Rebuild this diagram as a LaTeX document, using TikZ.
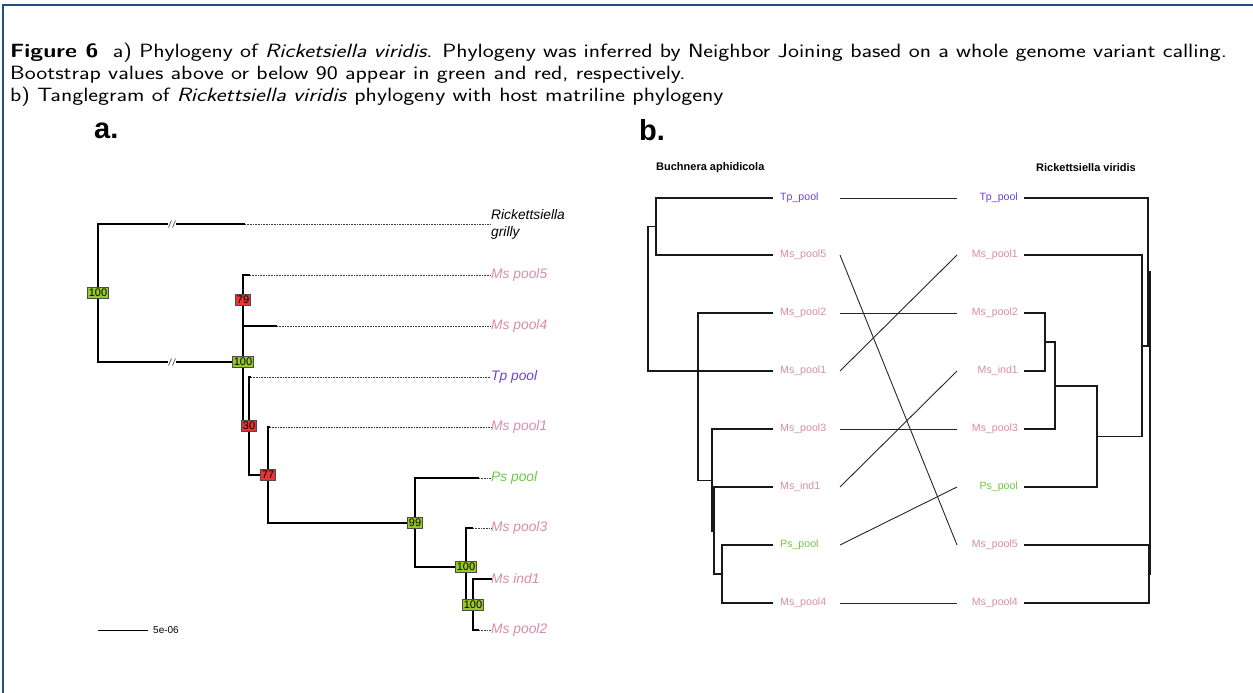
\documentclass[tikz,border=0pt]{standalone}
\usepackage{fontspec}
\newfontfamily\arial{Liberation Sans}
\definecolor{frameblue}{RGB}{31,78,140}
\definecolor{mspink}{RGB}{215,140,170}
\definecolor{tppurple}{RGB}{110,65,215}
\definecolor{psgreen}{RGB}{105,200,70}
\definecolor{bootgreen}{RGB}{150,200,40}
\definecolor{bootred}{RGB}{232,52,50}
\newcommand{\capwide}[1]{\scalebox{1.215}[1]{#1}}
\begin{document}
\begin{tikzpicture}[x=1pt,y=-1pt,
  capt/.style={anchor=base west,inner sep=0,font=\sffamily\fontsize{19.2}{22}\selectfont},
  panel/.style={anchor=base west,inner sep=0,font=\arial\bfseries\fontsize{29}{29}\selectfont},
  br/.style={line width=2pt},
  dotl/.style={line width=0.7pt,black!75,dash pattern=on 0.8pt off 0.8pt},
  tiplab/.style={anchor=west,inner sep=0,font=\arial\itshape\fontsize{13.8}{16}\selectfont},
  boot/.style={draw=black!70,line width=0.8pt,inner xsep=1.2pt,inner ysep=0.6pt,minimum height=11pt,text=black,font=\arial\fontsize{11}{11}\selectfont},
  bg/.style={boot,fill=bootgreen},
  bred/.style={boot,fill=bootred},
  tb/.style={line width=1.2pt,black!90},
  conn/.style={line width=0.9pt,black!85},
  tlab/.style={inner sep=0,font=\arial\fontsize{10.6}{12}\selectfont},
  ttitle/.style={inner sep=0,font=\arial\bfseries\fontsize{11}{12}\selectfont}
]
\useasboundingbox (0,0) rectangle (1253,693);
% frame
\draw[frameblue,line width=1.3pt] (3,693) -- (3,5) -- (1253,5);
% caption
\node[capt] (c1) at (10,58) {\capwide{\textbf{Figure 6}\ \ a) Phylogeny of \textit{Ricketsiella viridis}. Phylogeny was inferred by Neighbor Joining based on a whole genome variant calling.}};
\node[capt] (c2) at (10,79) {\capwide{Bootstrap values above or below 90 appear in green and red, respectively.}};
\node[capt] (c3) at (10,101) {\capwide{b) Tanglegram of \textit{Rickettsiella viridis} phylogeny with host matriline phylogeny}};
\node[panel] (pa) at (94,138) {a.};
\node[panel] (pb) at (639,140) {b.};

% ---------- tree a ----------
\coordinate (aR) at (98,293);
\coordinate (aN1) at (243,362);
\coordinate (aN79) at (243,300);
\coordinate (aN30) at (249,426);
\coordinate (aN77) at (268,475);
\coordinate (aN99) at (415,523);
\coordinate (aNb) at (466,567);
\coordinate (aNc) at (473,605);
\coordinate (tRG) at (245,224);
\coordinate (tM5) at (250,275);
\coordinate (tM4) at (277,326);
\coordinate (tTp) at (251,377);
\coordinate (tM1) at (270,427);
\coordinate (tPs) at (479,478);
\coordinate (tM3) at (473,528);
\coordinate (tMi) at (492,579);
\coordinate (tM2) at (479,630);
\draw[br] (aR) |- (tRG);
\draw[br] (aR) |- (aN1);
\draw[br] (aN1) |- (aN79);
\draw[br] (aN1) |- (aN30);
\draw[br] (aN79) |- (tM5);
\draw[br] (aN79) |- (tM4);
\draw[br] (aN30) |- (tTp);
\draw[br] (aN30) |- (aN77);
\draw[br] (aN77) |- (tM1);
\draw[br] (aN77) |- (aN99);
\draw[br] (aN99) |- (tPs);
\draw[br] (aN99) |- (aNb);
\draw[br] (aNb) |- (tM3);
\draw[br] (aNb) |- (aNc);
\draw[br] (aNc) |- (tMi);
\draw[br] (aNc) |- (tM2);
% axis breaks
\foreach \yy in {224,362}{
  \fill[white] (168,\yy-3.5) rectangle (176,\yy+3.5);
  \draw[black!70,line width=0.7pt] (168.5,\yy+3.5) -- (171.5,\yy-3.5);
  \draw[black!70,line width=0.7pt] (172.5,\yy+3.5) -- (175.5,\yy-3.5);
}
% labels
\node[tiplab,align=left,text=black,font=\arial\itshape\fontsize{13.8}{17}\selectfont] (lRG) at (491,224.5) {Rickettsiella\\grilly};
\node[tiplab,text=mspink] (lM5) at (491,275) {Ms pool5};
\node[tiplab,text=mspink] (lM4) at (491,326) {Ms pool4};
\node[tiplab,text=tppurple] (lTp) at (491,377) {Tp pool};
\node[tiplab,text=mspink] (lM1) at (491,427) {Ms pool1};
\node[tiplab,text=psgreen] (lPs) at (491,478) {Ps pool};
\node[tiplab,text=mspink] (lM3) at (491,528) {Ms pool3};
\node[tiplab,text=mspink] (lMi) at (491,579) {Ms ind1};
\node[tiplab,text=mspink] (lM2) at (491,630) {Ms pool2};
\draw[dotl] (tRG) -- (490,224);
\draw[dotl] (tM5) -- (lM5.west);
\draw[dotl] (tM4) -- (lM4.west);
\draw[dotl] (tTp) -- (lTp.west);
\draw[dotl] (tM1) -- (lM1.west);
\draw[dotl] (tPs) -- (lPs.west);
\draw[dotl] (tM3) -- (lM3.west);
\draw[dotl] (tM2) -- (lM2.west);
% bootstrap boxes
\node[bg] (bR) at (aR) {100};
\node[bg] (b1) at (aN1) {100};
\node[bred] (b79) at (aN79) {79};
\node[bred] (b30) at (aN30) {30};
\node[bred] (b77) at (aN77) {77};
\node[bg] (b99) at (aN99) {99};
\node[bg] (bb) at (aNb) {100};
\node[bg] (bc) at (aNc) {100};
% scale bar
\coordinate (sb1) at (98,630);
\coordinate (sb2) at (148,630);
\draw[line width=1pt] (sb1) -- (sb2);
\node[anchor=west,inner sep=0,font=\arial\fontsize{10}{12}\selectfont] (sbl) at (153,630) {5e-06};

% ---------- tanglegram ----------
\node[ttitle,anchor=west] (tl) at (656,168) {Buchnera aphidicola};
\node[ttitle] (tr) at (1086,168) {Rickettsiella viridis};
% left tree
\coordinate (LR) at (648,298.5);
\coordinate (LA) at (656,226.5);
\coordinate (LB) at (698,371);
\coordinate (LC) at (712,480.5);
\coordinate (LD) at (714,531);
\coordinate (LE) at (722,574);
\coordinate (Lt1) at (773,198);
\coordinate (Lt2) at (773,255);
\coordinate (Lt3) at (773,313);
\coordinate (Lt4) at (773,371);
\coordinate (Lt5) at (773,429);
\coordinate (Lt6) at (773,487);
\coordinate (Lt7) at (773,545);
\coordinate (Lt8) at (773,603);
\draw[tb] (LR) |- (LA);
\draw[tb] (LR) |- (LB);
\draw[tb] (LA) |- (Lt1);
\draw[tb] (LA) |- (Lt2);
\draw[tb] (LB) |- (Lt3);
\draw[tb] (LB) |- (Lt4);
\draw[tb] (LB) |- (LC);
\draw[tb] (LC) |- (Lt5);
\draw[tb] (LC) |- (LD);
\draw[tb] (LD) |- (Lt6);
\draw[tb] (LD) |- (LE);
\draw[tb] (LE) |- (Lt7);
\draw[tb] (LE) |- (Lt8);
\node[tlab,anchor=west,text=tppurple] (Ll1) at (780,198) {Tp\_pool};
\node[tlab,anchor=west,text=mspink] (Ll2) at (780,255) {Ms\_pool5};
\node[tlab,anchor=west,text=mspink] (Ll3) at (780,313) {Ms\_pool2};
\node[tlab,anchor=west,text=mspink] (Ll4) at (780,371) {Ms\_pool1};
\node[tlab,anchor=west,text=mspink] (Ll5) at (780,429) {Ms\_pool3};
\node[tlab,anchor=west,text=mspink] (Ll6) at (780,487) {Ms\_ind1};
\node[tlab,anchor=west,text=psgreen] (Ll7) at (780,545) {Ps\_pool};
\node[tlab,anchor=west,text=mspink] (Ll8) at (780,603) {Ms\_pool4};
% right tree
\coordinate (RR) at (1150,423);
\coordinate (RB) at (1148,272);
\coordinate (RC) at (1149,574);
\coordinate (RD) at (1142,346);
\coordinate (RE) at (1097,436.5);
\coordinate (RF) at (1055,386);
\coordinate (RG) at (1045,342);
\coordinate (Rt1) at (1024,198);
\coordinate (Rt2) at (1024,255);
\coordinate (Rt3) at (1024,313);
\coordinate (Rt4) at (1024,371);
\coordinate (Rt5) at (1024,429);
\coordinate (Rt6) at (1024,487);
\coordinate (Rt7) at (1024,545);
\coordinate (Rt8) at (1024,603);
\draw[tb] (RR) |- (RB);
\draw[tb] (RR) |- (RC);
\draw[tb] (RB) |- (Rt1);
\draw[tb] (RB) |- (RD);
\draw[tb] (RD) |- (Rt2);
\draw[tb] (RD) |- (RE);
\draw[tb] (RE) |- (RF);
\draw[tb] (RE) |- (Rt6);
\draw[tb] (RF) |- (RG);
\draw[tb] (RF) |- (Rt5);
\draw[tb] (RG) |- (Rt3);
\draw[tb] (RG) |- (Rt4);
\draw[tb] (RC) |- (Rt7);
\draw[tb] (RC) |- (Rt8);
\node[tlab,anchor=east,text=tppurple] (Rl1) at (1018,198) {Tp\_pool};
\node[tlab,anchor=east,text=mspink] (Rl2) at (1018,255) {Ms\_pool1};
\node[tlab,anchor=east,text=mspink] (Rl3) at (1018,313) {Ms\_pool2};
\node[tlab,anchor=east,text=mspink] (Rl4) at (1018,371) {Ms\_ind1};
\node[tlab,anchor=east,text=mspink] (Rl5) at (1018,429) {Ms\_pool3};
\node[tlab,anchor=east,text=psgreen] (Rl6) at (1018,487) {Ps\_pool};
\node[tlab,anchor=east,text=mspink] (Rl7) at (1018,545) {Ms\_pool5};
\node[tlab,anchor=east,text=mspink] (Rl8) at (1018,603) {Ms\_pool4};
% connectors
\foreach \i/\y in {1/198,2/255,3/313,4/371,5/429,6/487,7/545,8/603}{
  \coordinate (CL\i) at (840,\y);
  \coordinate (CR\i) at (957,\y);
}
\draw[conn] (CL1) -- (CR1);
\draw[conn] (CL2) -- (CR7);
\draw[conn] (CL3) -- (CR3);
\draw[conn] (CL4) -- (CR2);
\draw[conn] (CL5) -- (CR5);
\draw[conn] (CL6) -- (CR4);
\draw[conn] (CL7) -- (CR6);
\draw[conn] (CL8) -- (CR8);
\end{tikzpicture}
\end{document}
